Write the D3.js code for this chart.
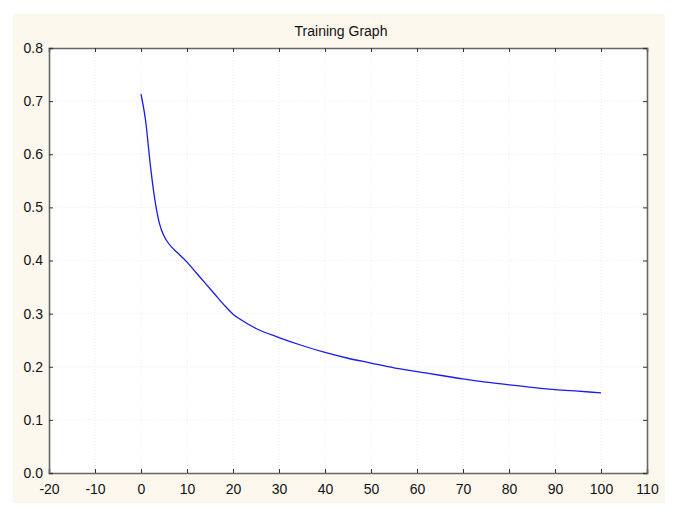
<!DOCTYPE html>
<html lang="en">
<head>
    <meta charset="UTF-8">
    <title>Training Graph</title>
    <style>
        body { margin: 0; background: #fff; }
        text { font-family: "Liberation Sans", Arial, sans-serif; fill: #111; }
    </style>
</head>
<body>
    <script src="https://cdnjs.cloudflare.com/ajax/libs/d3/7.8.5/d3.min.js"></script>
    <script>
        // data
        var epochs = [0, 1, 2, 3, 4, 5, 6, 8, 10, 12, 14, 16, 18, 20, 22, 25, 30, 35, 40, 45, 50, 55, 60, 65, 70, 75, 80, 85, 90, 95, 100];
        var loss = [0.713, 0.663, 0.582, 0.515, 0.470, 0.446, 0.432, 0.414, 0.397, 0.377, 0.357, 0.337, 0.317, 0.299, 0.287, 0.272, 0.255, 0.240, 0.227, 0.216, 0.207, 0.198, 0.191, 0.184, 0.177, 0.171, 0.166, 0.161, 0.157, 0.154, 0.151];
        var xTicks = [-20, -10, 0, 10, 20, 30, 40, 50, 60, 70, 80, 90, 100, 110];
        var yTicks = [0, 0.1, 0.2, 0.3, 0.4, 0.5, 0.6, 0.7, 0.8];
        var title = 'Training Graph';

        var width = 685, height = 521;
        var plot = {left: 49, right: 647, top: 48, bottom: 473};

        var svg = d3.select('body').append('svg')
            .attr('width', width)
            .attr('height', height);

        // cream panel
        svg.append('rect')
            .attr('x', 13).attr('y', 14)
            .attr('width', 652).attr('height', 489)
            .attr('fill', '#fcf8ee');

        svg.append('rect')
            .attr('x', plot.left).attr('y', plot.top)
            .attr('width', plot.right - plot.left).attr('height', plot.bottom - plot.top)
            .attr('fill', '#fff');

        var x = d3.scaleLinear().domain([-20, 110]).range([plot.left, plot.right]);
        var y = d3.scaleLinear().domain([0, 0.8]).range([plot.bottom, plot.top]);

        // grid, very faint
        var grid = svg.append('g')
            .attr('stroke', '#eeeeee')
            .attr('stroke-width', 1)
            .attr('stroke-dasharray', '1,2');
        grid.selectAll('.gx').data(xTicks.slice(1, -1)).enter().append('line')
            .attr('x1', function(d) { return x(d); })
            .attr('x2', function(d) { return x(d); })
            .attr('y1', plot.top).attr('y2', plot.bottom);
        grid.selectAll('.gy').data(yTicks.slice(1, -1)).enter().append('line')
            .attr('y1', function(d) { return y(d); })
            .attr('y2', function(d) { return y(d); })
            .attr('x1', plot.left).attr('x2', plot.right);

        // axes (ticks pointing inward)
        var fmtY = d3.format('.1f');
        svg.append('g')
            .attr('transform', 'translate(0,' + plot.bottom + ')')
            .call(d3.axisBottom(x).tickValues(xTicks).tickSize(-4).tickPadding(11)
                .tickFormat(function(d) { return String(d); }))
            .call(styleAxis);
        svg.append('g')
            .attr('transform', 'translate(0,' + plot.top + ')')
            .call(d3.axisTop(x).tickValues(xTicks).tickSize(-4).tickFormat(''))
            .call(styleAxis);
        svg.append('g')
            .attr('transform', 'translate(' + plot.left + ',0)')
            .call(d3.axisLeft(y).tickValues(yTicks).tickSize(-4).tickPadding(6).tickFormat(fmtY))
            .call(styleAxis);
        svg.append('g')
            .attr('transform', 'translate(' + plot.right + ',0)')
            .call(d3.axisRight(y).tickValues(yTicks).tickSize(-4).tickFormat(''))
            .call(styleAxis);

        function styleAxis(g) {
            g.select('.domain').attr('stroke', '#666').attr('stroke-width', 1.6);
            g.selectAll('.tick line').attr('stroke', '#333');
            g.selectAll('.tick text')
                .attr('font-size', 14)
                .attr('font-family', '"Liberation Sans", Arial, sans-serif')
                .attr('fill', '#111');
        }

        // the curve
        var line = d3.line()
            .x(function(d, i) { return x(epochs[i]); })
            .y(function(d) { return y(d); })
            .curve(d3.curveMonotoneX);
        svg.append('path')
            .datum(loss)
            .attr('d', line)
            .attr('fill', 'none')
            .attr('stroke', '#1a1aee')
            .attr('stroke-width', 1.3);

        // title
        svg.append('text')
            .attr('x', 341).attr('y', 36)
            .attr('text-anchor', 'middle')
            .attr('font-size', 14)
            .text(title);
    </script>
</body>
</html>
